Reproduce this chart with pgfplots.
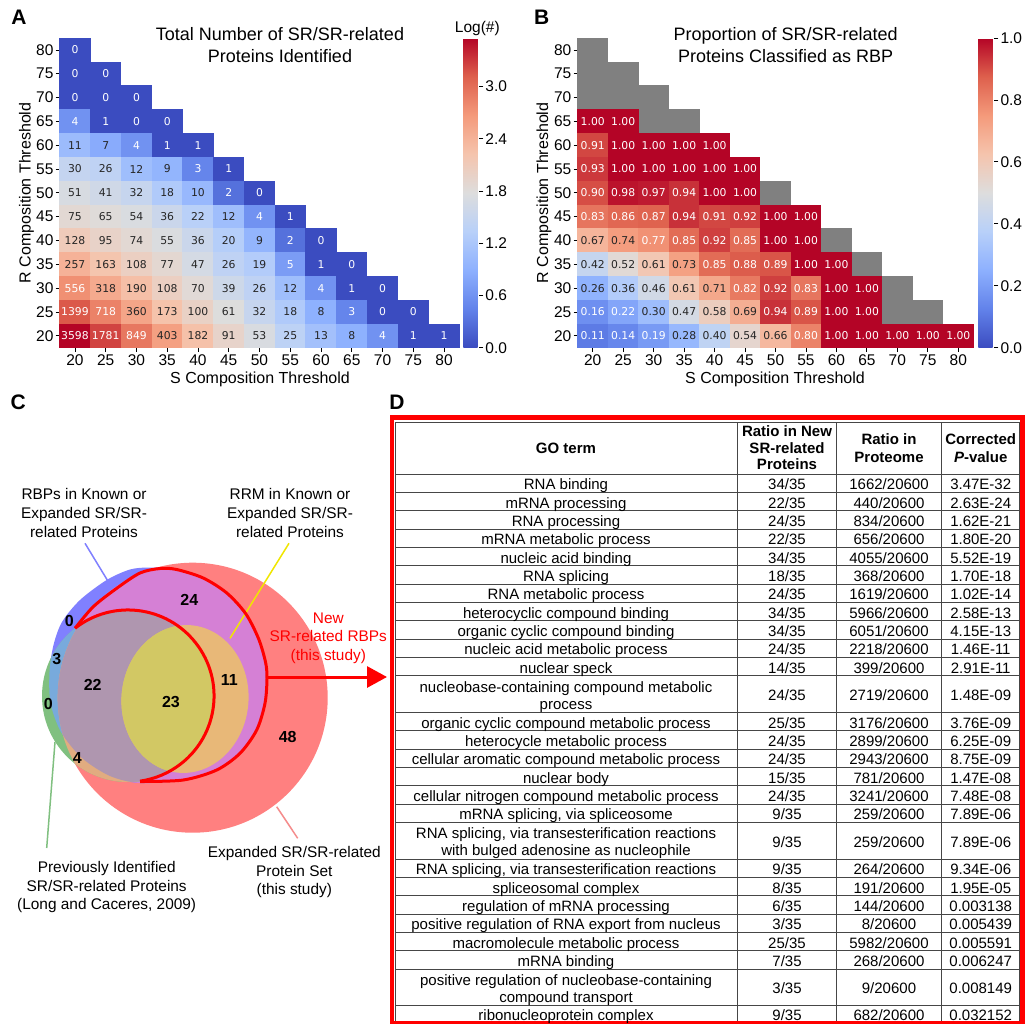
\documentclass[border=0pt]{standalone}
\usepackage{fontspec}
\setmainfont{Liberation Sans}
\newfontfamily\dejavu{DejaVu Sans}
\usepackage{pgfplots}
\usepackage{pgfplotstable}
\pgfplotsset{compat=1.18}
\usetikzlibrary{arrows.meta}
\pgfkeys{/pgf/number format/assume math mode=true}

\definecolor{w}{RGB}{255,255,255}
\definecolor{k}{RGB}{38,38,38}
\definecolor{cellgray}{RGB}{128,128,128}
\definecolor{cR}{RGB}{255,128,128}
\definecolor{cB}{RGB}{128,128,255}
\definecolor{cRB}{RGB}{213,128,213}
\definecolor{cG}{RGB}{128,192,128}
\definecolor{cBG}{RGB}{120,170,220}
\definecolor{cRG}{RGB}{225,172,128}
\definecolor{cRBG}{RGB}{175,150,175}
\definecolor{cY}{RGB}{232,184,120}
\definecolor{cYG}{RGB}{210,200,100}
\definecolor{lnY}{RGB}{240,230,0}
\definecolor{lnR}{RGB}{245,140,140}
\definecolor{gridc}{RGB}{70,70,70}

% one heatmap cell, in pt (axes are 1:1 with the picture)
\pgfdeclareplotmark{cellA}{\pgfpathrectangle{\pgfpoint{-15.6pt}{-12.1pt}}{\pgfpoint{31.2pt}{24.2pt}}\pgfusepathqfill}
\pgfdeclareplotmark{cellB}{\pgfpathrectangle{\pgfpoint{-15.45pt}{-12.1pt}}{\pgfpoint{30.9pt}{24.2pt}}\pgfusepathqfill}

\pgfplotsset{
  colormap={coolwarm}{rgb255(0cm)=(59,76,192) rgb255(1cm)=(98,130,234) rgb255(2cm)=(141,176,254)
    rgb255(3cm)=(184,208,249) rgb255(4cm)=(221,221,221) rgb255(5cm)=(245,196,173)
    rgb255(6cm)=(244,154,123) rgb255(7cm)=(222,96,77) rgb255(8cm)=(180,4,38)},
  heat/.style={
    scale only axis, height=309.7pt,
    xmin=17.5, xmax=82.5, ymin=17.5, ymax=82.5,
    xtick={20,25,...,80}, ytick={20,25,...,80},
    tick align=outside, tick pos=left, major tick length=4pt,
    major tick style={black, line width=0.8pt},
    axis line style={draw=none},
    tick label style={font=\fontsize{15.5}{18}\selectfont},
    xticklabel style={inner sep=2.5pt},
    yticklabel style={inner sep=2pt},
    clip=false, colormap name=coolwarm, colorbar,
    colorbar style={at={(parent axis.north east)}, anchor=north west,
      scale only axis, width=16pt, height=309.7pt,
      axis line style={draw=none}, tick align=outside, major tick length=4pt,
      major tick style={black, line width=0.8pt},
      ytick pos=right, yticklabel pos=right,
      tick label style={font=\fontsize{15.5}{18}\selectfont},
      yticklabel style={inner sep=2pt, /pgf/number format/.cd, fixed, fixed zerofill, precision=1}},
  },
  % cell labels; #1 = value of tw to keep, #2 = text colour
  labels/.style 2 args={only marks, mark=none, point meta=explicit symbolic, nodes near coords,
    restrict expr to domain={\thisrow{tw}}{#1:#1},
    every node near coord/.append style={anchor=center, inner sep=0pt,
      text=#2, font=\dejavu\fontsize{10.8}{12}\selectfont}},
}

% A: number of proteins, S threshold (s) by R threshold (r); tw=1: white label
\pgfplotstableread{
s r n tw
20 80 0 1
20 75 0 1
25 75 0 1
20 70 0 1
25 70 0 1
30 70 0 1
20 65 4 1
25 65 1 1
30 65 0 1
35 65 0 1
20 60 11 0
25 60 7 0
30 60 4 1
35 60 1 1
40 60 1 1
20 55 30 0
25 55 26 0
30 55 12 0
35 55 9 0
40 55 3 1
45 55 1 1
20 50 51 0
25 50 41 0
30 50 32 0
35 50 18 0
40 50 10 0
45 50 2 1
50 50 0 1
20 45 75 0
25 45 65 0
30 45 54 0
35 45 36 0
40 45 22 0
45 45 12 0
50 45 4 1
55 45 1 1
20 40 128 0
25 40 95 0
30 40 74 0
35 40 55 0
40 40 36 0
45 40 20 0
50 40 9 0
55 40 2 1
60 40 0 1
20 35 257 0
25 35 163 0
30 35 108 0
35 35 77 0
40 35 47 0
45 35 26 0
50 35 19 0
55 35 5 1
60 35 1 1
65 35 0 1
20 30 556 1
25 30 318 0
30 30 190 0
35 30 108 0
40 30 70 0
45 30 39 0
50 30 26 0
55 30 12 0
60 30 4 1
65 30 1 1
70 30 0 1
20 25 1399 1
25 25 718 1
30 25 360 0
35 25 173 0
40 25 100 0
45 25 61 0
50 25 32 0
55 25 18 0
60 25 8 0
65 25 3 1
70 25 0 1
75 25 0 1
20 20 3598 1
25 20 1781 1
30 20 849 1
35 20 403 0
40 20 182 0
45 20 91 0
50 20 53 0
55 20 25 0
60 20 13 0
65 20 8 0
70 20 4 1
75 20 1 1
80 20 1 1
}\dataA

% B: proportion classified as RBP (empty cells drawn grey)
\pgfplotstableread{
s r v tw
20 65 1.00 1
25 65 1.00 1
20 60 0.91 1
25 60 1.00 1
30 60 1.00 1
35 60 1.00 1
40 60 1.00 1
20 55 0.93 1
25 55 1.00 1
30 55 1.00 1
35 55 1.00 1
40 55 1.00 1
45 55 1.00 1
20 50 0.90 1
25 50 0.98 1
30 50 0.97 1
35 50 0.94 1
40 50 1.00 1
45 50 1.00 1
20 45 0.83 1
25 45 0.86 1
30 45 0.87 1
35 45 0.94 1
40 45 0.91 1
45 45 0.92 1
50 45 1.00 1
55 45 1.00 1
20 40 0.67 0
25 40 0.74 0
30 40 0.77 1
35 40 0.85 1
40 40 0.92 1
45 40 0.85 1
50 40 1.00 1
55 40 1.00 1
20 35 0.42 0
25 35 0.52 0
30 35 0.61 0
35 35 0.73 0
40 35 0.85 1
45 35 0.88 1
50 35 0.89 1
55 35 1.00 1
60 35 1.00 1
20 30 0.26 0
25 30 0.36 0
30 30 0.46 0
35 30 0.61 0
40 30 0.71 0
45 30 0.82 1
50 30 0.92 1
55 30 0.83 1
60 30 1.00 1
65 30 1.00 1
20 25 0.16 1
25 25 0.22 1
30 25 0.30 0
35 25 0.47 0
40 25 0.58 0
45 25 0.69 0
50 25 0.94 1
55 25 0.89 1
60 25 1.00 1
65 25 1.00 1
20 20 0.11 1
25 20 0.14 1
30 20 0.19 1
35 20 0.28 0
40 20 0.40 0
45 20 0.54 0
50 20 0.66 0
55 20 0.80 1
60 20 1.00 1
65 20 1.00 1
70 20 1.00 1
75 20 1.00 1
80 20 1.00 1
}\dataB

% outline of the RBP set in the Venn diagram (picture pixels, y downwards)
\newcommand\bluepath{plot[smooth cycle, tension=0.5] coordinates {(150,567.5) (176.6,569.5)
  (203.2,578) (226.8,593) (245.6,613.5) (258.5,638.5) (265.5,662) (267,678.3) (265,703.3)
  (256.7,730) (240,753.3) (216.7,770) (183.3,780) (140,783) (110,776) (82,758) (61,732)
  (50.5,703) (49.5,672) (53.5,645) (62,622) (80,600) (106.7,580) (130,569.5)}}

\tikzset{
  tb/.style={anchor=base, inner sep=0pt, font=\fontsize{15}{17.5}\selectfont},
  th/.style={anchor=base, inner sep=0pt, font=\bfseries\fontsize{15}{17.5}\selectfont},
  vl/.style={anchor=base, inner sep=0pt, font=\fontsize{15.4}{18}\selectfont},
  vn/.style={inner sep=0pt, font=\bfseries\fontsize{16}{18}\selectfont},
  pl/.style={anchor=base, inner sep=0pt, font=\bfseries\fontsize{21}{24}\selectfont},
}
\newcommand\trow[5]{\node[tb] at (566pt,-#1pt){#2};\node[tb] at (787pt,-#1pt){#3};%
  \node[tb] at (889pt,-#1pt){#4};\node[tb] at (980.7pt,-#1pt){#5};}
\newcommand\trowii[8]{\node[tb] at (566pt,-#2pt){#4};\node[tb] at (566pt,-#3pt){#5};%
  \node[tb] at (787pt,-#1pt){#6};\node[tb] at (889pt,-#1pt){#7};\node[tb] at (980.7pt,-#1pt){#8};}

\begin{document}
\begin{tikzpicture}
\useasboundingbox[fill=white] (0pt,0pt) rectangle (1026pt,-1024pt);

% ---------- A ----------
% (the colorbar already has a default shift of 0.3cm; these shifts add to it)
\begin{axis}[heat, at={(59.6pt,-347.7pt)}, anchor=south west, width=399.8pt,
  point meta min=0, point meta max=3.556,
  colorbar style={xshift=-4.64pt, ytick={0,0.6,1.2,1.8,2.4,3.0}}]
\addplot[scatter, only marks, mark=cellA,
  point meta={0.4342945*ln(max(\thisrow{n},1))}] table[x=s, y=r] {\dataA};
\addplot[labels={1}{w}] table[x=s, y=r, meta=n] {\dataA};
\addplot[labels={0}{k}] table[x=s, y=r, meta=n] {\dataA};
\end{axis}

% ---------- B ----------
\begin{axis}[heat, at={(577.5pt,-347.7pt)}, anchor=south west, width=396pt,
  point meta min=0, point meta max=1,
  colorbar style={xshift=-3.74pt, ytick={0,0.2,0.4,0.6,0.8,1.0}}]
\addplot[only marks, mark=cellB, color=cellgray] coordinates {
  (20,80) (20,75) (25,75) (20,70) (25,70) (30,70) (30,65) (35,65)
  (50,50) (60,40) (65,35) (70,30) (70,25) (75,25)};
\addplot[scatter, only marks, mark=cellB, point meta=\thisrow{v}] table[x=s, y=r] {\dataB};
\addplot[labels={1}{w}] table[x=s, y=r, meta=v] {\dataB};
\addplot[labels={0}{k}] table[x=s, y=r, meta=v] {\dataB};
\end{axis}

% titles and labels of A and B
\node[pl] at (19pt,-24.8pt) {A};
\node[pl] at (541.7pt,-24.8pt) {B};
\begin{scope}[every node/.style={anchor=base, inner sep=0pt, font=\fontsize{18}{20}\selectfont}]
\node at (280pt,-40.7pt) {Total Number of SR/SR-related};
\node at (280pt,-62.4pt) {Proteins Identified};
\node at (785.7pt,-40.7pt) {Proportion of SR/SR-related};
\node at (785.7pt,-62.4pt) {Proteins Classified as RBP};
\end{scope}
\begin{scope}[every node/.style={anchor=base, inner sep=0pt, font=\fontsize{16}{18}\selectfont}]
\node at (260pt,-383.4pt) {S Composition Threshold};
\node at (775pt,-383.4pt) {S Composition Threshold};
\node[rotate=90] at (30.7pt,-192.8pt) {R Composition Threshold};
\node[rotate=90] at (548pt,-192.8pt) {R Composition Threshold};
\end{scope}
\node[anchor=base, inner sep=0pt, font=\fontsize{15.5}{18}\selectfont] at (477.3pt,-32.8pt) {Log(\#)};

% ---------- C ----------
\begin{axis}[at={(20pt,-545pt)}, anchor=north west, scale only axis, width=320pt, height=310pt,
  xmin=20, xmax=340, ymin=545, ymax=855, y dir=reverse, hide axis, clip=false]
\fill[cR] (axis cs:192.7,697.7) circle[radius=135pt];
\fill[cB] \bluepath;
\begin{scope}
  \clip (axis cs:192.7,697.7) circle[radius=135pt];
  \fill[cRB] \bluepath;
\end{scope}
\fill[cG] (axis cs:128,696) circle[radius=86pt];
\begin{scope}
  \clip \bluepath;
  \fill[cBG] (axis cs:128,696) circle[radius=86pt];
\end{scope}
\begin{scope}
  \clip (axis cs:192.7,697.7) circle[radius=135pt];
  \fill[cRG] (axis cs:128,696) circle[radius=86pt];
\end{scope}
\begin{scope}
  \clip (axis cs:192.7,697.7) circle[radius=135pt];
  \clip \bluepath;
  \fill[cRBG] (axis cs:128,696) circle[radius=86pt];
\end{scope}
\fill[cY, rotate around={-5:(axis cs:185,699)}] (axis cs:185,699) ellipse[x radius=63.5pt, y radius=74pt];
\begin{scope}
  \clip (axis cs:128,696) circle[radius=86pt];
  \fill[cYG, rotate around={-5:(axis cs:185,699)}] (axis cs:185,699) ellipse[x radius=63.5pt, y radius=74pt];
\end{scope}
% leader lines
\draw[cB, line width=1.5pt] (axis cs:85,543.3) -- (axis cs:108.3,581.7);
\draw[lnY, line width=1.5pt] (axis cs:289,543.3) -- (axis cs:230,638.3);
\draw[cG, line width=1.5pt] (axis cs:55,742) -- (axis cs:46.7,848);
\draw[lnR, line width=1.5pt] (axis cs:276.7,806.7) -- (axis cs:297.7,838.3);
% new SR-related RBPs outline
\addplot[red, line width=3pt, smooth, tension=0.5] coordinates {
  (75.1,628.2) (93.3,606.7) (116.7,588.3) (140,573) (160,568.5) (176.6,569.5) (203.2,578)
  (226.8,593) (245.6,613.5) (258.5,638.5) (265.5,662) (267,678.3) (265,703.3) (256.7,730)
  (240,753.3) (216.7,770) (183.3,780) (140,781.5)};
\draw[red, line width=3pt] (axis cs:75.1,628.2) arc[start angle=128, end angle=-82, radius=86pt];
\draw[red, line width=3pt, -{Triangle[length=20pt, width=21pt]}] (axis cs:267,677) -- (axis cs:387,677);
\end{axis}

\node[pl] at (18.3pt,-409.2pt) {C};
\node[pl] at (397pt,-409.5pt) {D};
\node[vn] at (189.3pt,-600pt) {24};
\node[vn] at (69.3pt,-621pt) {0};
\node[vn] at (56.7pt,-659.3pt) {3};
\node[vn] at (92.7pt,-685pt) {22};
\node[vn] at (171pt,-701.7pt) {23};
\node[vn] at (229.3pt,-680pt) {11};
\node[vn] at (48.3pt,-704pt) {0};
\node[vn] at (77.3pt,-758.3pt) {4};
\node[vn] at (287.7pt,-736.7pt) {48};
\node[vl] at (84pt,-499.8pt) {RBPs in Known or};
\node[vl] at (84pt,-518.8pt) {Expanded SR/SR-};
\node[vl] at (84pt,-537.2pt) {related Proteins};
\node[vl] at (290pt,-499.8pt) {RRM in Known or};
\node[vl] at (290pt,-518.8pt) {Expanded SR/SR-};
\node[vl] at (290pt,-537.2pt) {related Proteins};
\node[vl, text=red] at (328.3pt,-623.2pt) {New};
\node[vl, text=red] at (328.3pt,-641.5pt) {SR-related RBPs};
\node[vl, text=red] at (328.3pt,-660.5pt) {(this study)};
\node[vl] at (106.7pt,-872.2pt) {Previously Identified};
\node[vl] at (106.7pt,-891.2pt) {SR/SR-related Proteins};
\node[vl] at (106.7pt,-909.8pt) {(Long and Caceres, 2009)};
\node[vl] at (294.3pt,-857.8pt) {Expanded SR/SR-related};
\node[vl] at (294.3pt,-876.2pt) {Protein Set};
\node[vl] at (294.3pt,-894.8pt) {(this study)};

% ---------- D ----------
\foreach \y in {422,474,492.33,510.67,529,547.33,565.67,584,602.33,620.67,639,657.33,675.67,
  712.33,730.67,749,767.33,785.67,804,822.33,859,877.33,895.67,914,932.33,950.67,969,1005.67}
  \draw[gridc, line width=0.9pt] (395pt,-\y pt) -- (1019.5pt,-\y pt);
\foreach \x in {395,737.5,836,941.7,1019.5}
  \draw[gridc, line width=0.9pt] (\x pt,-422pt) -- (\x pt,-1024pt);
\draw[red, line width=4.5pt] (392pt,-417.5pt) rectangle (1022.5pt,-1023pt);

\node[th] at (566pt,-453.7pt) {GO term};
\node[th] at (787pt,-436pt) {Ratio in New};
\node[th] at (787pt,-453pt) {SR-related};
\node[th] at (787pt,-469.5pt) {Proteins};
\node[th] at (889pt,-444.3pt) {Ratio in};
\node[th] at (889pt,-462.3pt) {Proteome};
\node[th] at (980.7pt,-444.3pt) {Corrected};
\node[th] at (980.7pt,-462.3pt) {\textit{P}-value};

\trow{489.7}{RNA binding}{34/35}{1662/20600}{3.47E-32}
\trow{508.0}{mRNA processing}{22/35}{440/20600}{2.63E-24}
\trow{526.3}{RNA processing}{24/35}{834/20600}{1.62E-21}
\trow{544.7}{mRNA metabolic process}{22/35}{656/20600}{1.80E-20}
\trow{563.0}{nucleic acid binding}{34/35}{4055/20600}{5.52E-19}
\trow{581.3}{RNA splicing}{18/35}{368/20600}{1.70E-18}
\trow{599.7}{RNA metabolic process}{24/35}{1619/20600}{1.02E-14}
\trow{618.0}{heterocyclic compound binding}{34/35}{5966/20600}{2.58E-13}
\trow{636.3}{organic cyclic compound binding}{34/35}{6051/20600}{4.15E-13}
\trow{654.7}{nucleic acid metabolic process}{24/35}{2218/20600}{1.46E-11}
\trow{673.0}{nuclear speck}{14/35}{399/20600}{2.91E-11}
\trowii{700.5}{692}{709}{nucleobase-containing compound metabolic}{process}{24/35}{2719/20600}{1.48E-09}
\trow{728.0}{organic cyclic compound metabolic process}{25/35}{3176/20600}{3.76E-09}
\trow{746.3}{heterocycle metabolic process}{24/35}{2899/20600}{6.25E-09}
\trow{764.7}{cellular aromatic compound metabolic process}{24/35}{2943/20600}{8.75E-09}
\trow{783.0}{nuclear body}{15/35}{781/20600}{1.47E-08}
\trow{801.3}{cellular nitrogen compound metabolic process}{24/35}{3241/20600}{7.48E-08}
\trow{819.7}{mRNA splicing, via spliceosome}{9/35}{259/20600}{7.89E-06}
\trowii{847.2}{838.7}{855.7}{RNA splicing, via transesterification reactions}{with bulged adenosine as nucleophile}{9/35}{259/20600}{7.89E-06}
\trow{874.7}{RNA splicing, via transesterification reactions}{9/35}{264/20600}{9.34E-06}
\trow{893.0}{spliceosomal complex}{8/35}{191/20600}{1.95E-05}
\trow{911.3}{regulation of mRNA processing}{6/35}{144/20600}{0.003138}
\trow{929.7}{positive regulation of RNA export from nucleus}{3/35}{8/20600}{0.005439}
\trow{948.0}{macromolecule metabolic process}{25/35}{5982/20600}{0.005591}
\trow{966.3}{mRNA binding}{7/35}{268/20600}{0.006247}
\trowii{993.8}{985.3}{1002.3}{positive regulation of nucleobase-containing}{compound transport}{3/35}{9/20600}{0.008149}
\trow{1020.6}{ribonucleoprotein complex}{9/35}{682/20600}{0.032152}
\end{tikzpicture}
\end{document}
